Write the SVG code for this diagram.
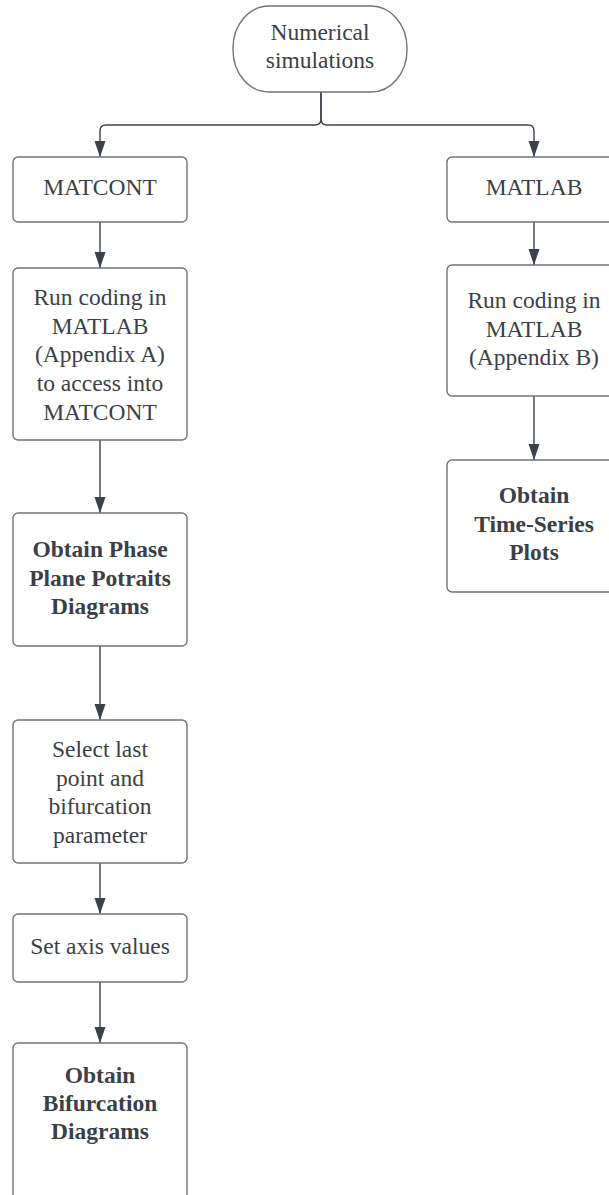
<svg xmlns="http://www.w3.org/2000/svg" width="609" height="1195" viewBox="0 0 609 1195">
<style>
.box{fill:#ffffff;stroke:#6f747b;stroke-width:1.4}
.t{font-family:"Liberation Serif","Times New Roman",serif;font-size:23.5px;fill:#3a3f48;text-anchor:middle}
.b{font-weight:bold}
.c{fill:none;stroke:#3a414a;stroke-width:1.4}
</style>
<defs>
<marker id="ah" viewBox="0 0 16 12" refX="16" refY="6" markerWidth="16" markerHeight="12" markerUnits="userSpaceOnUse" orient="auto">
<path d="M0,0.5 L16,6 L0,11.5 z" fill="#3a414a"/>
</marker>
</defs>
<rect width="609" height="1195" fill="#ffffff"/>
<g id="connectors">
<path class="c" d="M321,92 L321,119 Q321,125 315,125 L106,125 Q100,125 100,131 L100,157" marker-end="url(#ah)"/>
<path class="c" d="M321,92 L321,119 Q321,125 327,125 L528,125 Q534,125 534,131 L534,157" marker-end="url(#ah)"/>
<path class="c" d="M100,222 L100,268" marker-end="url(#ah)"/>
<path class="c" d="M100,440 L100,513" marker-end="url(#ah)"/>
<path class="c" d="M100,646 L100,720" marker-end="url(#ah)"/>
<path class="c" d="M100,863 L100,914" marker-end="url(#ah)"/>
<path class="c" d="M100,982 L100,1043" marker-end="url(#ah)"/>
<path class="c" d="M534,222 L534,265" marker-end="url(#ah)"/>
<path class="c" d="M534,396 L534,460" marker-end="url(#ah)"/>
</g>
<g id="start">
<rect class="box" x="233" y="6" width="174" height="86" rx="36" ry="42"/>
<text class="t" x="320" y="40">Numerical</text>
<text class="t" x="320" y="68">simulations</text>
</g>
<g id="matcont">
<rect class="box" x="13" y="157" width="174" height="65" rx="5"/>
<text class="t" x="100" y="195">MATCONT</text>
</g>
<g id="matlab">
<rect class="box" x="447" y="157" width="174" height="65" rx="5"/>
<text class="t" x="534" y="195">MATLAB</text>
</g>
<g id="runA">
<rect class="box" x="13" y="268" width="174" height="172" rx="5"/>
<text class="t" x="100" y="305">Run coding in</text>
<text class="t" x="100" y="334">MATLAB</text>
<text class="t" x="100" y="362">(Appendix A)</text>
<text class="t" x="100" y="391">to access into</text>
<text class="t" x="100" y="420">MATCONT</text>
</g>
<g id="runB">
<rect class="box" x="447" y="265" width="174" height="131" rx="5"/>
<text class="t" x="534" y="308">Run coding in</text>
<text class="t" x="534" y="337">MATLAB</text>
<text class="t" x="534" y="365">(Appendix B)</text>
</g>
<g id="timeseries">
<rect class="box" x="447" y="460" width="174" height="132" rx="5"/>
<text class="t b" x="534" y="503">Obtain</text>
<text class="t b" x="534" y="532">Time-Series</text>
<text class="t b" x="534" y="560">Plots</text>
</g>
<g id="phase">
<rect class="box" x="13" y="513" width="174" height="133" rx="5"/>
<text class="t b" x="100" y="557">Obtain Phase</text>
<text class="t b" x="100" y="586">Plane Potraits</text>
<text class="t b" x="100" y="614">Diagrams</text>
</g>
<g id="select">
<rect class="box" x="13" y="720" width="174" height="143" rx="5"/>
<text class="t" x="100" y="757">Select last</text>
<text class="t" x="100" y="786">point and</text>
<text class="t" x="100" y="814">bifurcation</text>
<text class="t" x="100" y="843">parameter</text>
</g>
<g id="axis">
<rect class="box" x="13" y="914" width="174" height="68" rx="5"/>
<text class="t" x="100" y="954">Set axis values</text>
</g>
<g id="bifurcation">
<rect class="box" x="13" y="1043" width="174" height="160" rx="5"/>
<text class="t b" x="100" y="1083">Obtain</text>
<text class="t b" x="100" y="1111">Bifurcation</text>
<text class="t b" x="100" y="1139">Diagrams</text>
</g>
</svg>
